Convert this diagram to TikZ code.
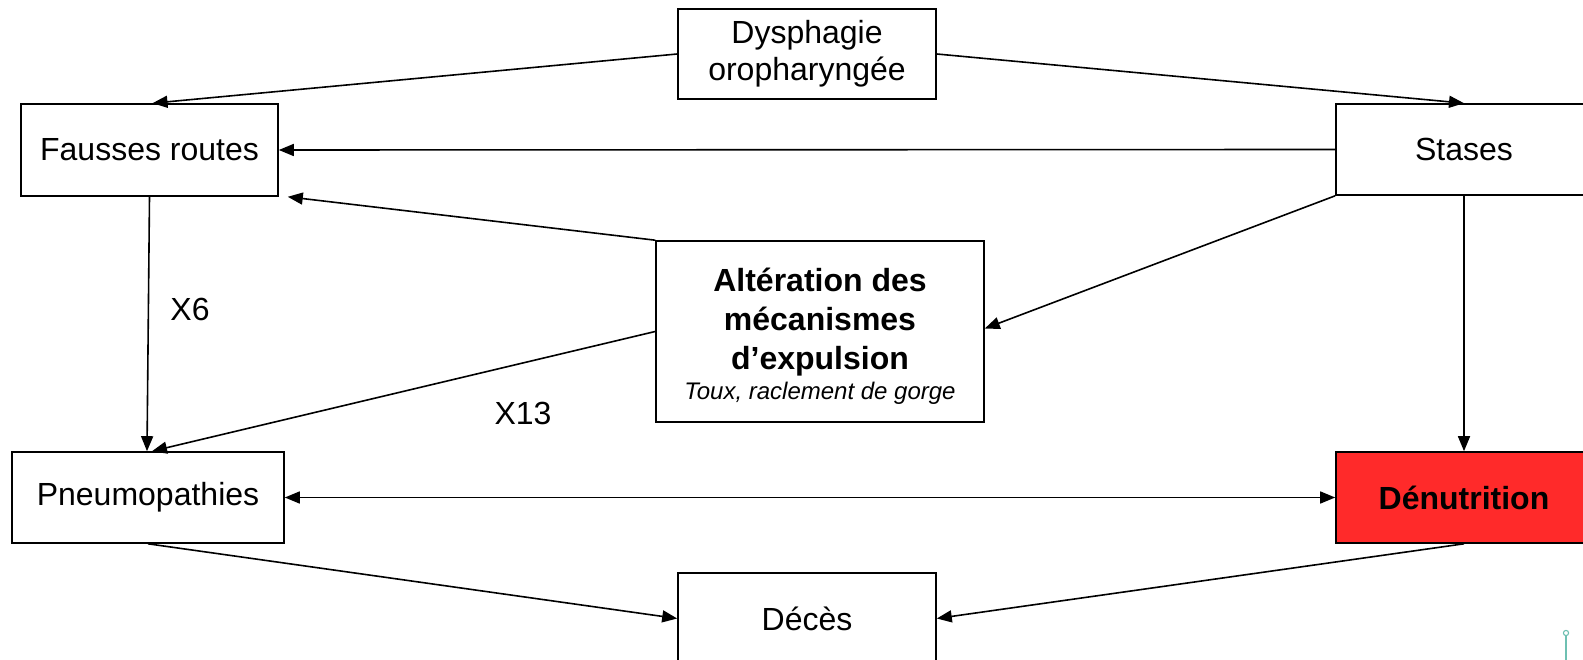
\documentclass[tikz,border=0pt]{standalone}
\usepackage{fontspec}
\setmainfont{Liberation Sans}
\usetikzlibrary{arrows.meta,calc}
\definecolor{denred}{RGB}{255,42,42}
\definecolor{logoteal}{RGB}{110,192,178}
\tikzset{
  box/.style={draw=black, line width=1.6pt, fill=white, inner sep=0pt, align=center,
    font=\fontsize{32}{37}\selectfont},
  conn/.style={line width=1.6pt, -{Triangle[length=15pt,width=12pt]}},
  biconn/.style={line width=1.6pt, {Triangle[length=15pt,width=12pt]}-{Triangle[length=15pt,width=12pt]}},
  lbl/.style={font=\fontsize{32}{37}\selectfont, inner sep=0pt}
}
\begin{document}
\begin{tikzpicture}[x=1pt,y=-1pt]
\useasboundingbox (0,0) rectangle (1583,660);
\clip (0,0) rectangle (1583,660);
\fill[white] (0,0) rectangle (1583,660);

\node[box, minimum width=258pt, minimum height=90pt] (dys) at (807,54) {Dysphagie\\oropharyngée};
\node[box, minimum width=257pt, minimum height=92pt] (fr) at (149.5,150) {\raisebox{-2pt}{Fausses routes}};
\node[box, minimum width=256pt, minimum height=91pt] (st) at (1464,149.5) {\raisebox{-2pt}{Stases}};
\node[box, minimum width=328pt, minimum height=181pt] (alt) at (820,331.5) {};
\node[align=center, inner sep=0pt, font=\fontsize{32}{39}\selectfont] (alttext) at ($(alt.center)+(0,5)$)
  {\textbf{Altération des}\\\textbf{mécanismes}\\\textbf{d’expulsion}\\[-9pt]{\fontsize{24}{28}\selectfont\itshape Toux, raclement de gorge}};
\node[box, minimum width=272pt, minimum height=91pt] (pn) at (148,497.5) {\raisebox{-2pt}{Pneumopathies}};
\node[box, minimum width=256pt, minimum height=91pt, fill=denred] (den) at (1464,497.5) {\raisebox{-2pt}{\textbf{Dénutrition}}};
\node[box, minimum width=258pt, minimum height=91pt] (dec) at (807,618.5) {Décès};

\node[lbl] (x6) at (190,309) {X6};
\node[lbl] (x13) at (523,413) {X13};

\draw[conn] (dys.west) -- ($(fr.north)+(3,0)$);
\draw[conn] (dys.east) -- (st.north);
\draw[conn] (st.west) -- (fr.east);
\draw[conn] (st.south west) -- ($(alt.east)+(0,-3)$);
\draw[conn] (alt.north west) -- ($(fr.south east)+(9,0)$);
\draw[conn] (fr.south) -- ($(pn.north)+(-1,0)$);
\draw[conn] (alt.west) -- ($(pn.north)+(4,0)$);
\draw[biconn] (pn.east) -- (den.west);
\draw[conn] (st.south) -- (den.north);
\draw[conn] (pn.south) -- (dec.west);
\draw[conn] (den.south) -- (dec.east);

\draw[logoteal, line width=1.3pt] (1566,636) -- (1566,662);
\draw[logoteal, line width=1.1pt, fill=white] (1566,633) circle (2.6pt);
\end{tikzpicture}
\end{document}
